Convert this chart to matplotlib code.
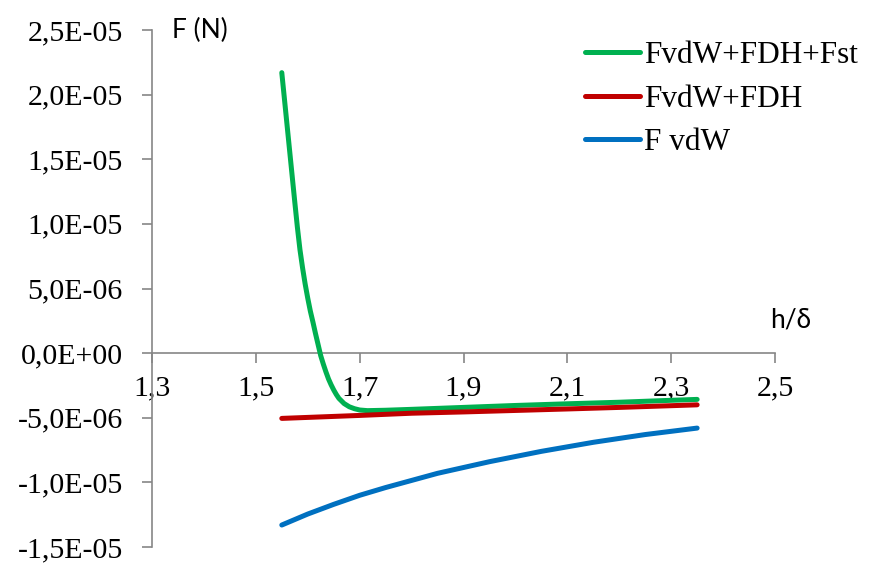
import matplotlib
matplotlib.use('Agg')
from matplotlib import pyplot as plt
from matplotlib.ticker import FuncFormatter

# h/delta values and forces (N)
h_total = [1.55, 1.555, 1.56, 1.565, 1.57, 1.575, 1.58, 1.585, 1.59, 1.595, 1.6, 1.605,
           1.61, 1.615, 1.62, 1.625, 1.63, 1.635, 1.64, 1.645, 1.65, 1.655, 1.66, 1.67,
           1.68, 1.69, 1.7, 1.715, 1.75, 1.8, 1.9, 2.0, 2.1, 2.2, 2.3, 2.35]
f_total = [2.17e-05, 1.97e-05, 1.77e-05, 1.57e-05, 1.37e-05, 1.17e-05, 9.75e-06, 8.0e-06,
           6.6e-06, 5.35e-06, 4.25e-06, 3.25e-06, 2.4e-06, 1.5e-06, 6.5e-07, -2.0e-07,
           -8.5e-07, -1.45e-06, -2.0e-06, -2.45e-06, -2.85e-06, -3.2e-06, -3.5e-06,
           -3.9e-06, -4.15e-06, -4.3e-06, -4.4e-06, -4.45e-06, -4.42e-06, -4.35e-06,
           -4.2e-06, -4.05e-06, -3.92e-06, -3.8e-06, -3.65e-06, -3.58e-06]

h_dh = [1.55, 1.7, 1.8, 1.9, 2.1, 2.2, 2.35]
f_dh = [-5.05e-06, -4.82e-06, -4.65e-06, -4.55e-06, -4.32e-06, -4.2e-06, -4.0e-06]

h_vdw = [1.55, 1.6, 1.65, 1.7, 1.75, 1.8, 1.85, 1.9, 1.95, 2.0, 2.05, 2.1, 2.15, 2.2,
         2.25, 2.3, 2.35]
f_vdw = [-1.33e-05, -1.245e-05, -1.17e-05, -1.1e-05, -1.04e-05, -9.85e-06, -9.3e-06,
         -8.85e-06, -8.4e-06, -8.0e-06, -7.6e-06, -7.25e-06, -6.9e-06, -6.6e-06,
         -6.3e-06, -6.05e-06, -5.8e-06]

labels = ['FvdW+FDH+Fst', 'FvdW+FDH', 'F vdW']
colors = ['#00B050', '#C00000', '#0070C0']

x_ticks = [1.3, 1.5, 1.7, 1.9, 2.1, 2.3, 2.5]
y_ticks = [-1.5e-05, -1.0e-05, -5.0e-06, 0.0, 5.0e-06, 1.0e-05, 1.5e-05, 2.0e-05, 2.5e-05]

fig = plt.figure(figsize=(8.71, 5.63), dpi=100)
ax = fig.add_axes([152 / 871, 16 / 563, 623 / 871, 517 / 563])

line_kw = dict(lw=3.6, solid_capstyle='round', solid_joinstyle='round')
ax.plot(h_total, f_total, color=colors[0], label=labels[0], zorder=3, **line_kw)
ax.plot(h_dh, f_dh, color=colors[1], label=labels[1], zorder=4, **line_kw)
ax.plot(h_vdw, f_vdw, color=colors[2], label=labels[2], zorder=5, **line_kw)

ax.set_xlim(1.3, 2.5)
ax.set_ylim(-1.5e-05, 2.5e-05)
ax.set_xticks(x_ticks)
ax.set_yticks(y_ticks)
ax.xaxis.set_major_formatter(FuncFormatter(lambda v, p: f'{v:.1f}'.replace('.', ',')))
ax.yaxis.set_major_formatter(FuncFormatter(lambda v, p: f'{v:.1E}'.replace('.', ',')))

axis_gray = '#868686'
ax.spines['top'].set_visible(False)
ax.spines['right'].set_visible(False)
ax.spines['bottom'].set_position(('data', 0))
for s in ['left', 'bottom']:
    ax.spines[s].set_color(axis_gray)
    ax.spines[s].set_linewidth(1.2)
ax.tick_params(axis='both', colors=axis_gray, width=1.2, length=7, direction='out')
ax.tick_params(axis='x', pad=9, labelcolor='black')
ax.tick_params(axis='y', pad=14, labelcolor='black')
for lab in ax.get_xticklabels() + ax.get_yticklabels():
    lab.set_fontfamily('Liberation Serif')
    lab.set_fontsize(21.5)

ax.text(20 / 623, 1.0, 'F (N)', transform=ax.transAxes, ha='left', va='center',
        fontfamily='Lato', fontsize=19)
ax.text(639 / 623, 227 / 517, 'h/δ', transform=ax.transAxes, ha='center', va='center',
        fontfamily='Lato', fontsize=19)

ax.legend(loc='upper left', bbox_to_anchor=(585 / 871, 1 - 41 / 563),
          bbox_transform=fig.transFigure, frameon=False, borderpad=0, borderaxespad=0,
          handlelength=1.76, handletextpad=0.12, labelspacing=0.47,
          prop={'family': 'Liberation Serif', 'size': 22.5})

fig.savefig('out.png', dpi=100)
